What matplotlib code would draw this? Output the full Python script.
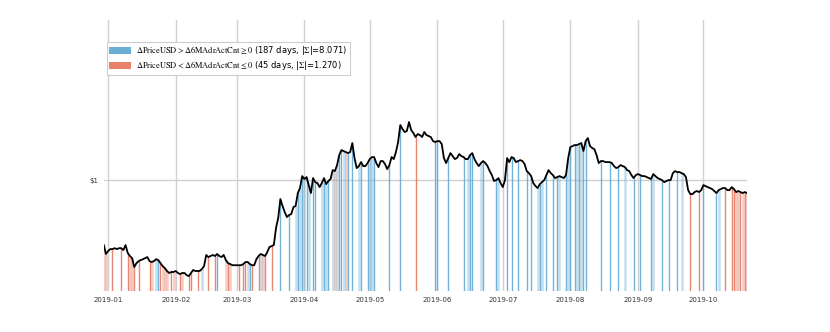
import matplotlib
matplotlib.use("Agg")
import matplotlib.pyplot as plt
import matplotlib.dates as mdates
from matplotlib.patches import Patch
import numpy as np
import pandas as pd

start_date = "2018-12-30"
price = [
    0.444, 0.397, 0.412, 0.422, 0.422, 0.427, 0.422, 0.427, 0.427, 0.417,
    0.444, 0.402, 0.387, 0.377, 0.337, 0.354, 0.363, 0.368, 0.372, 0.377,
    0.382, 0.363, 0.359, 0.363, 0.372, 0.368, 0.354, 0.341, 0.333, 0.321,
    0.313, 0.317, 0.317, 0.321, 0.313, 0.309, 0.313, 0.313, 0.305, 0.301,
    0.313, 0.325, 0.321, 0.321, 0.321, 0.329, 0.341, 0.392, 0.382, 0.387,
    0.392, 0.387, 0.397, 0.387, 0.382, 0.392, 0.368, 0.354, 0.350, 0.345,
    0.345, 0.345, 0.345, 0.345, 0.350, 0.359, 0.359, 0.350, 0.345, 0.345,
    0.372, 0.387, 0.397, 0.392, 0.387, 0.407, 0.433, 0.438, 0.444, 0.549,
    0.622, 0.789, 0.723, 0.670, 0.630, 0.646, 0.654, 0.714, 0.723, 0.850,
    0.905, 1.051, 1.013, 1.038, 0.939, 0.850, 1.025, 0.975, 0.963, 0.916,
    0.963, 1.025, 0.951, 0.988, 1.013, 1.133, 1.119, 1.206, 1.367, 1.455,
    1.437, 1.419, 1.401, 1.419, 1.588, 1.317, 1.162, 1.191, 1.252, 1.191,
    1.191, 1.237, 1.300, 1.333, 1.333, 1.237, 1.176, 1.268, 1.268, 1.221,
    1.147, 1.206, 1.333, 1.300, 1.419, 1.608, 1.989, 1.892, 1.822, 1.845,
    2.065, 1.868, 1.800, 1.712, 1.777, 1.755, 1.712, 1.822, 1.755, 1.733,
    1.712, 1.628, 1.608, 1.628, 1.628, 1.568, 1.317, 1.237, 1.317, 1.401,
    1.350, 1.300, 1.317, 1.384, 1.350, 1.333, 1.300, 1.300, 1.367, 1.401,
    1.300, 1.237, 1.191, 1.237, 1.268, 1.237, 1.191, 1.119, 1.064, 0.988,
    1.000, 1.025, 0.963, 0.916, 1.000, 1.317, 1.252, 1.333, 1.317, 1.252,
    1.268, 1.284, 1.268, 1.221, 1.119, 1.091, 1.051, 0.963, 0.928, 0.905,
    0.951, 0.975, 1.000, 1.064, 1.133, 1.091, 1.064, 1.025, 1.038, 1.051,
    1.038, 1.025, 1.064, 1.317, 1.511, 1.530, 1.549, 1.549, 1.568, 1.588,
    1.437, 1.628, 1.690, 1.530, 1.492, 1.473, 1.367, 1.237, 1.268, 1.268,
    1.252, 1.252, 1.252, 1.237, 1.191, 1.162, 1.176, 1.206, 1.191, 1.176,
    1.133, 1.119, 1.064, 1.025, 1.064, 1.078, 1.064, 1.051, 1.051, 1.038,
    1.025, 1.013, 1.078, 1.051, 1.025, 1.013, 1.000, 0.975, 0.988, 1.000,
    1.000, 1.091, 1.119, 1.105, 1.105, 1.091, 1.078, 1.038, 0.882, 0.839,
    0.839, 0.861, 0.872, 0.861, 0.882, 0.939, 0.928, 0.916, 0.905, 0.894,
    0.872, 0.850, 0.882, 0.894, 0.905, 0.905, 0.882, 0.882, 0.916, 0.894,
    0.861, 0.872, 0.861, 0.850, 0.861, 0.850,
]

# day offsets (from start_date) where the signal is shown
blue_strong = [25, 52, 67, 81, 85, 89, 91, 93, 96, 97, 101, 103, 108, 109, 112, 114,
               118, 121, 124, 131, 136, 152, 153, 158, 165, 168, 169, 174, 180, 185,
               187, 190, 194, 196, 200, 203, 206, 208, 212, 214, 216, 218, 220, 221,
               228, 232, 236, 243, 246, 251, 256, 259, 263, 275, 281]
blue_light = [24, 45, 66, 72, 88, 90, 92, 94, 100, 102, 105, 107, 110, 117, 122, 123,
              167, 173, 181, 199, 201, 209, 213, 217, 219, 239, 252, 265, 282]
red_strong = [4, 8, 11, 14, 16, 21, 26, 31, 35, 39, 40, 43, 48, 51, 57, 62, 64, 65,
              68, 71, 74, 77, 143, 269, 273, 285, 288, 289, 292, 294]
red_light = [0, 1, 12, 13, 22, 27, 28, 29, 32, 36, 56, 58, 73, 106, 111, 290, 291,
             293, 295]

legend_labels = [
    r"$\Delta\mathrm{PriceUSD} > \Delta\mathrm{6MAdrActCnt} \geq 0$ (187 days, |$\Sigma$|=8.071)",
    r"$\Delta\mathrm{PriceUSD} < \Delta\mathrm{6MAdrActCnt} \leq 0$ (45 days, |$\Sigma$|=1.270)",
]
ytick_values = [1]
ytick_labels = ["$1"]

BLUE = "#6baed6"
RED = "#e8806a"

plt.rcParams["mathtext.fontset"] = "stix"
dates = pd.date_range(start_date, periods=len(price), freq="D")
price_arr = np.array(price)
ylo, yhi = 0.25, 7.4

fig = plt.figure(figsize=(8.3, 3.32), dpi=100)
ax = fig.add_axes([0.125, 0.1235, 0.775, 0.8165])
ax.set_yscale("log")
ax.set_ylim(ylo, yhi)
ax.set_xlim(dates[0], dates[-1])

def draw(idx, color, alpha, lw):
    idx = np.array(idx)
    ax.vlines(dates[idx], ylo, price_arr[idx], colors=color, alpha=alpha,
              linewidth=lw, zorder=2)

draw(blue_light, BLUE, 0.4, 1.8)
draw(red_light, RED, 0.4, 1.8)
draw(blue_strong, BLUE, 0.95, 1.0)
draw(red_strong, RED, 0.95, 1.0)

ax.plot(dates, price_arr, color="black", linewidth=1.3, zorder=3)

ax.xaxis.set_major_locator(mdates.MonthLocator())
ax.xaxis.set_major_formatter(mdates.DateFormatter("%Y-%m"))
ax.set_yticks(ytick_values)
ax.set_yticklabels(ytick_labels)
ax.yaxis.set_minor_locator(matplotlib.ticker.NullLocator())
ax.tick_params(axis="both", length=0, labelsize=5, labelcolor="#333333", pad=4)
ax.grid(True, color="#d0d0d0", linewidth=1.0, zorder=0)
ax.set_axisbelow(True)
for s in ax.spines.values():
    s.set_visible(False)

handles = [Patch(facecolor=BLUE, edgecolor="none"), Patch(facecolor=RED, edgecolor="none")]
leg = ax.legend(handles, legend_labels, loc="upper left", bbox_to_anchor=(0.005, 0.919),
                borderaxespad=0, fontsize=6, frameon=True, fancybox=False,
                framealpha=1, edgecolor="#cccccc", handlelength=2.6, handleheight=0.9,
                borderpad=0.3, labelspacing=0.25, handletextpad=0.6)
leg.get_frame().set_linewidth(0.8)

fig.savefig("out.png", dpi=100)
